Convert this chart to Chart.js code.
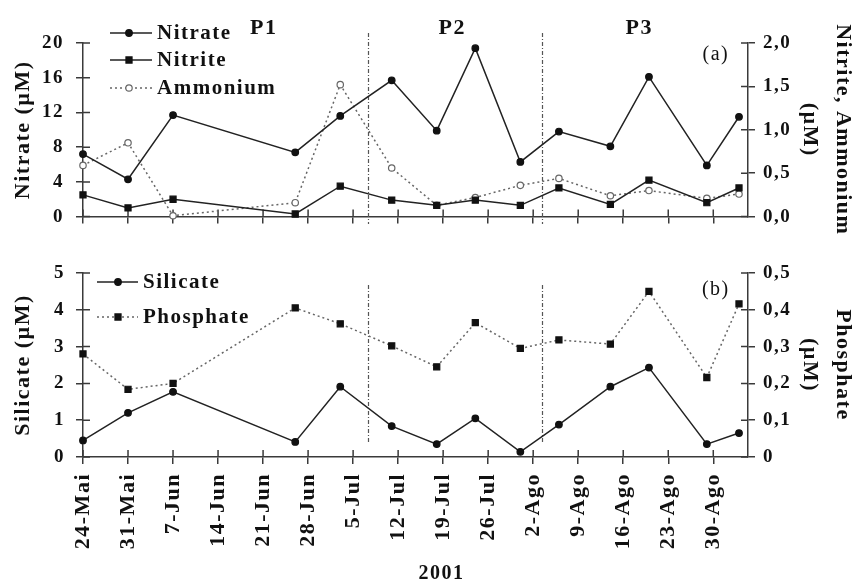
<!DOCTYPE html>
<html><head><meta charset="utf-8">
<script src="https://cdn.jsdelivr.net/npm/chart.js@4/dist/chart.umd.min.js"></script>
<style>
html,body{margin:0;padding:0;background:#fff;}
#wrap{position:relative;width:853px;height:583px;overflow:hidden;background:#fff;}
#c1{position:absolute;left:0;top:0;}
#c2{position:absolute;left:0;top:240px;}
</style></head><body>
<div id="wrap">
<canvas id="c1" width="853" height="240"></canvas>
<canvas id="c2" width="853" height="343"></canvas>
</div>
<script>
// ---- data (days since 24 May 2001) ----
const days = [0, 7, 14, 33, 40, 48, 55, 61, 68, 74, 82, 88, 97, 102];
const nitrate = [7.2, 4.3, 11.7, 7.4, 11.6, 15.7, 9.9, 19.4, 6.3, 9.8, 8.1, 16.1, 5.9, 11.5];
const nitrite = [0.25, 0.10, 0.20, 0.03, 0.35, 0.19, 0.13, 0.19, 0.13, 0.33, 0.14, 0.42, 0.16, 0.33];
const ammonium = [0.59, 0.85, 0.01, 0.16, 1.52, 0.56, 0.13, 0.22, 0.36, 0.44, 0.24, 0.30, 0.21, 0.26];
const silicate = [0.45, 1.20, 1.77, 0.41, 1.91, 0.84, 0.35, 1.05, 0.14, 0.88, 1.91, 2.43, 0.35, 0.65];
const phosphate = [0.28, 0.184, 0.20, 0.405, 0.362, 0.302, 0.245, 0.365, 0.295, 0.318, 0.307, 0.45, 0.216, 0.416];

const xTickDays = [0, 7, 14, 21, 28, 35, 42, 49, 56, 63, 70, 77, 84, 91, 98];
const xTickLabels = ['24-Mai','31-Mai','7-Jun','14-Jun','21-Jun','28-Jun','5-Jul','12-Jul','19-Jul','26-Jul','2-Ago','9-Ago','16-Ago','23-Ago','30-Ago'];
const periodLabels = ['P1', 'P2', 'P3'];
const periodDays = [28.1, 57.4, 86.5];
const dividerDays = [44.3, 71.3];
const yearLabel = '2001';

const SERIF = "'Liberation Serif','Times New Roman',serif";
const AX = '#3a3a3a';
const INK = '#111';
Chart.defaults.color = INK;
Chart.defaults.font.family = SERIF;

function xy(vals) { return days.map((d, i) => ({x: d, y: vals[i]})); }

const spacing = {
  id: 'spacing',
  beforeUpdate(chart) { chart.ctx.letterSpacing = '1.5px'; },
  beforeDraw(chart) { chart.ctx.letterSpacing = '1.5px'; }
};

const innerTicks = {
  id: 'innerTicks',
  beforeDatasetsDraw(chart) {
    const ctx = chart.ctx, a = chart.chartArea;
    ctx.save();
    ctx.strokeStyle = AX; ctx.lineWidth = 1.5; ctx.setLineDash([]);
    ctx.beginPath();
    Object.values(chart.scales).forEach(s => {
      s.ticks.forEach(t => {
        const p = s.getPixelForValue(t.value);
        if (s.isHorizontal()) { ctx.moveTo(p, a.bottom); ctx.lineTo(p, a.bottom - 7); }
        else if (s.position === 'left') { ctx.moveTo(a.left, p); ctx.lineTo(a.left + 7, p); }
        else { ctx.moveTo(a.right, p); ctx.lineTo(a.right - 7, p); }
      });
    });
    ctx.stroke();
    ctx.restore();
  }
};

function marker(ctx, style, x, y, r, fill, stroke) {
  ctx.save();
  ctx.setLineDash([]);
  ctx.fillStyle = fill; ctx.strokeStyle = stroke; ctx.lineWidth = 1.2;
  ctx.beginPath();
  if (style === 'rect') {
    const h = r * Math.SQRT1_2;
    ctx.rect(x - h, y - h, 2 * h, 2 * h);
  } else {
    ctx.arc(x, y, r, 0, Math.PI * 2);
  }
  ctx.fill(); ctx.stroke();
  ctx.restore();
}

function makeDecor(cfg) {
  return {
    id: 'decor',
    beforeDatasetsDraw(chart) {
      const ctx = chart.ctx, xs = chart.scales.x;
      ctx.save();
      ctx.strokeStyle = '#555'; ctx.lineWidth = 1.2;
      ctx.setLineDash([4, 2, 1, 2]);
      dividerDays.forEach(d => {
        const px = Math.round(xs.getPixelForValue(d)) + 0.5;
        ctx.beginPath(); ctx.moveTo(px, cfg.divTop); ctx.lineTo(px, cfg.divBottom); ctx.stroke();
      });
      ctx.restore();
    },
    afterDraw(chart) {
      const ctx = chart.ctx, xs = chart.scales.x;
      ctx.save();
      ctx.letterSpacing = '1.5px';
      ctx.fillStyle = INK;
      ctx.textBaseline = 'middle';
      if (cfg.periods) {
        ctx.font = 'bold 22px ' + SERIF;
        ctx.textAlign = 'center';
        periodLabels.forEach((p, i) => ctx.fillText(p, xs.getPixelForValue(periodDays[i]), cfg.periodY));
      }
      ctx.font = '20px ' + SERIF;
      ctx.textAlign = 'center';
      ctx.fillText(cfg.tag, xs.getPixelForValue(98.4), cfg.tagY);
      // legend
      chart.data.datasets.forEach((ds, i) => {
        const y = cfg.legY[i];
        ctx.save();
        ctx.strokeStyle = ds.borderColor; ctx.lineWidth = ds.borderWidth;
        ctx.setLineDash(ds.borderDash || []);
        ctx.beginPath(); ctx.moveTo(cfg.legX0, y); ctx.lineTo(cfg.legX1, y); ctx.stroke();
        ctx.restore();
        marker(ctx, ds.pointStyle, cfg.legM, y, ds.pointRadius, ds.pointBackgroundColor, ds.pointBorderColor);
        ctx.font = 'bold 21px ' + SERIF;
        ctx.textAlign = 'left';
        ctx.fillStyle = INK;
        ctx.fillText(ds.label, cfg.legT, y + 1);
      });
      ctx.restore();
    }
  };
}

function xScale(showLabels, height, title) {
  return {
    type: 'linear', min: 0, max: 103.4,
    afterBuildTicks: s => { s.ticks = xTickDays.map(v => ({value: v})); },
    ticks: {
      display: showLabels, autoSkip: false, maxRotation: 90, minRotation: 90, padding: 9,
      color: INK, font: {family: SERIF, size: 22, weight: 'bold'},
      callback: (v, i) => xTickLabels[i]
    },
    grid: {drawOnChartArea: false, drawTicks: true, tickLength: 7, color: AX, lineWidth: 1.5},
    border: {display: true, color: AX, width: 1.5},
    title: title ? {display: true, text: title, color: INK, font: {family: SERIF, size: 20, weight: 'bold'}, padding: {top: 0, bottom: -3}} : {display: false},
    afterFit: s => { s.height = height; }
  };
}

function yScale(pos, min, max, step, fmt, title, titlePad, lh, width, pad) {
  return {
    type: 'linear', position: pos, min: min, max: max,
    ticks: {stepSize: step, padding: pad, color: INK, font: {family: SERIF, size: 19, weight: 'bold'}, callback: fmt},
    grid: {drawOnChartArea: false, drawTicks: true, tickLength: 7, color: AX, lineWidth: 1.5},
    border: {display: true, color: AX, width: 1.5},
    title: {display: true, text: title, color: INK, font: {family: SERIF, size: 22, weight: 'bold', lineHeight: lh}, padding: {top: titlePad, bottom: 0}},
    afterFit: s => { s.width = width; }
  };
}

const fmtInt = v => String(Math.round(v));
const fmtComma1 = v => v.toFixed(1).replace('.', ',');
const fmtPhos = v => (Math.abs(v) < 1e-9 ? '0' : v.toFixed(1).replace('.', ','));

function lineDs(label, vals, axis, dash, color, style, r, fill, mstroke) {
  return {
    label: label, data: xy(vals), yAxisID: axis,
    borderColor: color, borderWidth: 1.5, borderDash: dash,
    pointStyle: style, pointRadius: r, pointHoverRadius: r,
    pointBackgroundColor: fill, pointBorderColor: mstroke, pointBorderWidth: 1.2,
    tension: 0, clip: false, fill: false
  };
}

new Chart(document.getElementById('c1'), {
  type: 'line',
  data: {
    datasets: [
      lineDs('Nitrate', nitrate, 'yL', [], '#222', 'circle', 3.3, '#111', '#111'),
      lineDs('Nitrite', nitrite, 'yR', [], '#222', 'rect', 4.3, '#111', '#111'),
      lineDs('Ammonium', ammonium, 'yR', [2, 3], '#666', 'circle', 3.2, '#fff', '#666')
    ]
  },
  options: {
    responsive: false, animation: false, devicePixelRatio: 1,
    layout: {padding: {top: 43, left: 0, right: 0, bottom: 0}},
    plugins: {legend: {display: false}, tooltip: {enabled: false}},
    scales: {
      x: xScale(false, 10, null),
      yL: yScale('left', 0, 20, 4, fmtInt, 'Nitrate (µM)', 10, 1.2, 83, 12),
      yR: yScale('right', 0, 2, 0.5, fmtComma1, ['Nitrite, Ammonium', '(µM)'], -6, 1.5, 105, 8)
    }
  },
  plugins: [spacing, innerTicks, makeDecor({
    divTop: 33, divBottom: 224, periods: true, periodY: 28, tag: '(a)', tagY: 55,
    legY: [33, 60, 88], legX0: 110, legX1: 152, legM: 129, legT: 157
  })]
});

new Chart(document.getElementById('c2'), {
  type: 'line',
  data: {
    datasets: [
      lineDs('Silicate', silicate, 'yL', [], '#222', 'circle', 3.3, '#111', '#111'),
      lineDs('Phosphate', phosphate, 'yR', [2, 3], '#666', 'rect', 4.3, '#111', '#111')
    ]
  },
  options: {
    responsive: false, animation: false, devicePixelRatio: 1,
    layout: {padding: {top: 33, left: 0, right: 0, bottom: 0}},
    plugins: {legend: {display: false}, tooltip: {enabled: false}},
    scales: {
      x: xScale(true, 126, '        ' + yearLabel),
      yL: yScale('left', 0, 5, 1, fmtInt, 'Silicate (µM)', 10, 1.2, 83, 11),
      yR: yScale('right', 0, 0.5, 0.1, fmtPhos, ['Phosphate', '(µM)'], -6, 1.5, 105, 8)
    }
  },
  plugins: [spacing, innerTicks, makeDecor({
    divTop: 45, divBottom: 202, periods: false, tag: '(b)', tagY: 50,
    legY: [42, 77], legX0: 97, legX1: 138, legM: 118, legT: 143
  })]
});
</script>
</body></html>
